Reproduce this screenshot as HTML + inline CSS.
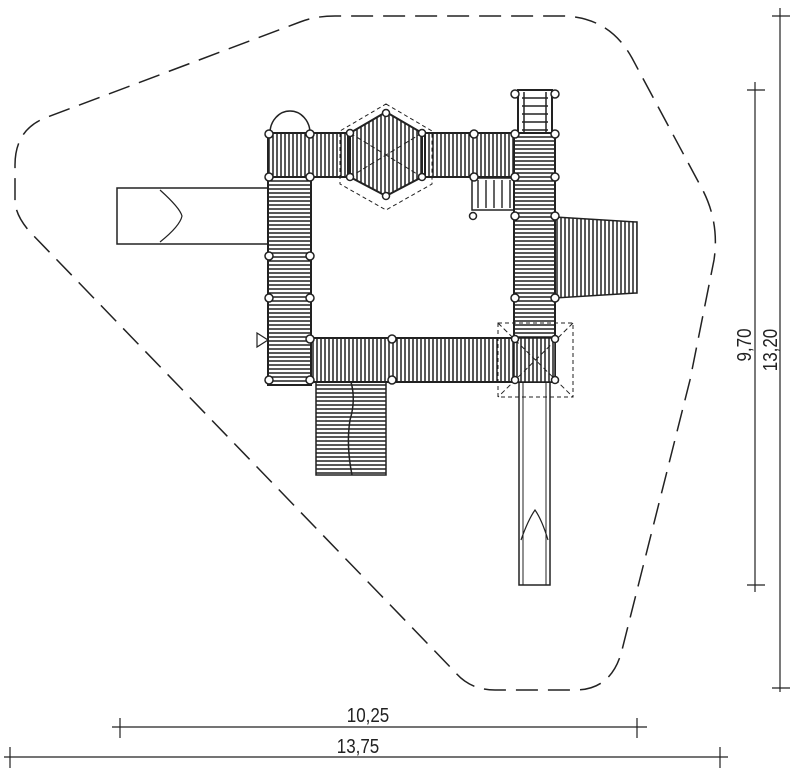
<!DOCTYPE html>
<html><head><style>body{margin:0;background:#fff}svg{display:block}</style></head><body>
<svg width="800" height="772" viewBox="0 0 800 772" xmlns="http://www.w3.org/2000/svg" font-family="Liberation Sans, sans-serif">
<defs>
<pattern id="v" width="4" height="4" patternUnits="userSpaceOnUse"><rect width="4" height="4" fill="#fff"/><line x1="1" y1="0" x2="1" y2="4" stroke="#111" stroke-width="1.4"/></pattern>
<pattern id="h" width="4" height="4" patternUnits="userSpaceOnUse"><rect width="4" height="4" fill="#fff"/><line x1="0" y1="1" x2="4" y2="1" stroke="#111" stroke-width="1.4"/></pattern>
</defs>
<path d="M15,165 Q15,130 45,118 L300,22 Q315,16 335,16 L565,16 Q610,18 632,58 L700,185 Q720,220 714,260 L690,380 L622,650 Q612,690 575,690 L495,690 Q470,690 455,672 L30,232 Q15,215 15,200 Z" fill="none" stroke="#222" stroke-width="1.5" stroke-dasharray="22,10"/>
<rect x="117" y="188" width="151" height="56" fill="#fff" stroke="#222" stroke-width="1.5"/>
<path d="M160,190 Q180,208 182,216 Q180,226 160,242" fill="none" stroke="#222" stroke-width="1.2"/>
<path d="M555,217 L637,222 L637,293 L555,298 Z" fill="url(#v)" stroke="#222" stroke-width="1.5"/>
<rect x="316" y="382" width="70" height="93" fill="url(#h)" stroke="#222" stroke-width="1.5"/>
<path d="M351,382 Q356,400 350,420 Q346,445 352,475" fill="none" stroke="#222" stroke-width="1.5"/>
<rect x="519" y="382" width="31" height="203" fill="#fff" stroke="#222" stroke-width="1.5"/>
<line x1="523" y1="382" x2="523" y2="585" stroke="#222"/><line x1="546" y1="382" x2="546" y2="585" stroke="#222"/>
<path d="M521,540 Q528,520 535,510 Q542,520 548,540" fill="none" stroke="#222" stroke-width="1.2"/>
<rect x="518" y="90" width="34" height="43" fill="#fff" stroke="#222" stroke-width="2"/>
<line x1="524" y1="92" x2="524" y2="133" stroke="#222" stroke-width="1.5"/><line x1="546" y1="92" x2="546" y2="133" stroke="#222" stroke-width="1.5"/>
<g stroke="#222" stroke-width="1.5"><line x1="522" y1="98" x2="548" y2="98"/><line x1="522" y1="106" x2="548" y2="106"/><line x1="522" y1="114" x2="548" y2="114"/><line x1="522" y1="122" x2="548" y2="122"/><line x1="522" y1="130" x2="548" y2="130"/></g>
<rect x="472" y="178" width="42" height="32" fill="#fff" stroke="#222" stroke-width="1.5"/>
<g stroke="#222" stroke-width="1.4"><line x1="478" y1="180" x2="478" y2="208"/><line x1="486" y1="180" x2="486" y2="208"/><line x1="494" y1="180" x2="494" y2="208"/><line x1="502" y1="180" x2="502" y2="208"/><line x1="510" y1="180" x2="510" y2="208"/></g>
<path d="M270,133 A20,22 0 0 1 310,133" fill="none" stroke="#222" stroke-width="1.5"/>
<rect x="268" y="133" width="80" height="44" fill="url(#v)" stroke="#222" stroke-width="2"/>
<rect x="425" y="133" width="90" height="44" fill="url(#v)" stroke="#222" stroke-width="2"/>
<rect x="268" y="177" width="43" height="208" fill="url(#h)" stroke="#222" stroke-width="2"/>
<rect x="311" y="338" width="205" height="44" fill="url(#v)" stroke="#222" stroke-width="2"/>
<rect x="514" y="133" width="41" height="249" fill="url(#h)" stroke="#222" stroke-width="2"/>
<rect x="514" y="338" width="41" height="44" fill="url(#v)" stroke="#222" stroke-width="1.5"/>
<polygon points="386,104 432,131 432,184 386,210 340,184 340,131" fill="none" stroke="#222" stroke-width="1" stroke-dasharray="4,3"/>
<polygon points="386,112 422,133 422,177 386,196 350,177 350,133" fill="url(#v)" stroke="#222" stroke-width="2"/>
<g stroke="#222" stroke-width="1" stroke-dasharray="5,3"><line x1="350" y1="133" x2="422" y2="177"/><line x1="422" y1="133" x2="350" y2="177"/></g>
<rect x="498" y="323" width="75" height="74" fill="none" stroke="#222" stroke-width="1" stroke-dasharray="4,3"/>
<g stroke="#222" stroke-width="1" stroke-dasharray="5,3"><line x1="498" y1="323" x2="573" y2="397"/><line x1="573" y1="323" x2="498" y2="397"/></g>
<g fill="#fff" stroke="#222" stroke-width="1.5">
<circle cx="269" cy="134" r="4"/><circle cx="310" cy="134" r="4"/><circle cx="269" cy="177" r="4"/><circle cx="310" cy="177" r="4"/>
<circle cx="269" cy="256" r="4"/><circle cx="310" cy="256" r="4"/><circle cx="269" cy="298" r="4"/><circle cx="310" cy="298" r="4"/>
<circle cx="269" cy="380" r="4"/><circle cx="310" cy="380" r="4"/><circle cx="310" cy="339" r="4"/><circle cx="392" cy="339" r="4"/><circle cx="392" cy="380" r="4"/>
<circle cx="474" cy="134" r="4"/><circle cx="474" cy="177" r="4"/><circle cx="515" cy="134" r="4"/><circle cx="555" cy="134" r="4"/><circle cx="515" cy="177" r="4"/><circle cx="555" cy="177" r="4"/>
<circle cx="515" cy="216" r="4"/><circle cx="555" cy="216" r="4"/><circle cx="515" cy="298" r="4"/><circle cx="555" cy="298" r="4"/>
<circle cx="515" cy="339" r="3.5"/><circle cx="555" cy="339" r="3.5"/><circle cx="515" cy="380" r="3.5"/><circle cx="555" cy="380" r="3.5"/>
<circle cx="386" cy="113" r="3.5"/><circle cx="350" cy="133" r="3.5"/><circle cx="422" cy="133" r="3.5"/><circle cx="350" cy="177" r="3.5"/><circle cx="422" cy="177" r="3.5"/><circle cx="386" cy="196" r="3.5"/>
<circle cx="515" cy="94" r="4"/><circle cx="555" cy="94" r="4"/><circle cx="473" cy="216" r="3.5"/>
</g>
<polygon points="257,333 268,340 257,347" fill="#fff" stroke="#222" stroke-width="1.2"/>
<g stroke="#222" stroke-width="1.2">
<line x1="780" y1="8" x2="780" y2="692"/><line x1="772" y1="16" x2="790" y2="16"/><line x1="772" y1="688" x2="790" y2="688"/>
<line x1="755" y1="82" x2="755" y2="592"/><line x1="747" y1="90" x2="765" y2="90"/><line x1="747" y1="585" x2="765" y2="585"/>
<line x1="112" y1="727" x2="647" y2="727"/><line x1="120" y1="718" x2="120" y2="738"/><line x1="637" y1="718" x2="637" y2="738"/>
<line x1="4" y1="757" x2="728" y2="757"/><line x1="10" y1="747" x2="10" y2="768"/><line x1="720" y1="747" x2="720" y2="768"/>
</g>
<g font-size="20" fill="#222">
<text transform="translate(368,722) scale(0.85,1)" text-anchor="middle">10,25</text>
<text transform="translate(358,753) scale(0.85,1)" text-anchor="middle">13,75</text>
<text transform="translate(751,345) rotate(-90) scale(0.85,1)" text-anchor="middle">9,70</text>
<text transform="translate(777,350) rotate(-90) scale(0.85,1)" text-anchor="middle">13,20</text>
</g>
</svg>
</body></html>
